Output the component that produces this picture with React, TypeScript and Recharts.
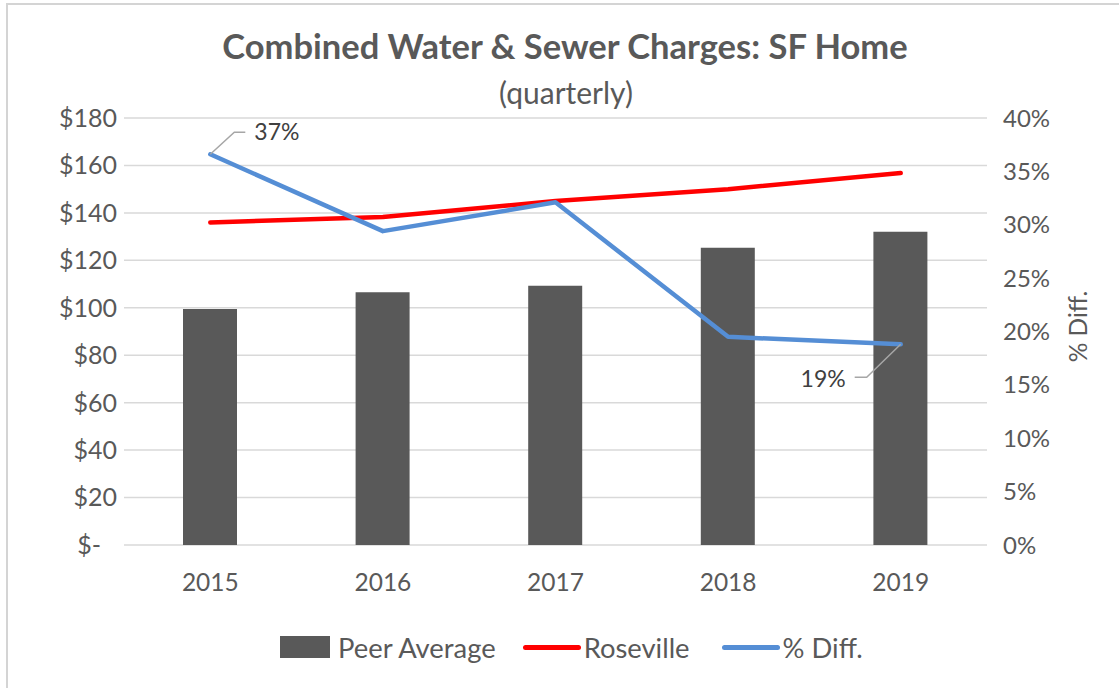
import React from 'react';
import { ComposedChart, Bar, Line, XAxis, YAxis, CartesianGrid } from 'recharts';

const years = ['2015', '2016', '2017', '2018', '2019'];
const peerAverage = [99.5, 106.5, 109.3, 125.3, 132.0];
const roseville = [136.0, 138.3, 145.0, 150.0, 156.8];
const pctDiff = [0.366, 0.294, 0.321, 0.195, 0.188];

const leftTicks = [0, 20, 40, 60, 80, 100, 120, 140, 160, 180];
const rightTicks = [0, 0.05, 0.1, 0.15, 0.2, 0.25, 0.3, 0.35, 0.4];

const seriesNames = ['Peer Average', 'Roseville', '% Diff.'];
const title = 'Combined Water & Sewer Charges: SF Home';
const subtitle = '(quarterly)';

const data = years.map((y, i) => ({
  year: y,
  peer: peerAverage[i],
  roseville: roseville[i],
  pct: pctDiff[i],
}));

const FONT = 'Lato, "Open Sans", sans-serif';
const TEXT = '#595959';

const LeftTick = (props: any) => {
  const { x, y, payload } = props;
  const v = payload.value;
  const label = v === 0 ? '$-' : '$' + v;
  return (
    <text x={v === 0 ? x - 16 : x} y={y} dy="0.355em" textAnchor="end" fill={TEXT} fontSize={25} fontFamily={FONT}>
      {label}
    </text>
  );
};

const PctLabel = (props: any) => {
  const { x, y, value, index } = props;
  const txt = Math.round(value * 100) + '%';
  if (index === 0) {
    return (
      <g>
        <polyline points={`${x},${y} ${x + 24},${y - 22} ${x + 35},${y - 22}`} fill="none" stroke="#a6a6a6" strokeWidth={1.5} />
        <text x={x + 44} y={y - 22} dy="0.355em" textAnchor="start" fill="#404040" fontSize={23} fontFamily={FONT}>{txt}</text>
      </g>
    );
  }
  if (index === years.length - 1) {
    return (
      <g>
        <polyline points={`${x},${y} ${x - 34},${y + 33} ${x - 46},${y + 33}`} fill="none" stroke="#a6a6a6" strokeWidth={1.5} />
        <text x={x - 55} y={y + 35} dy="0.355em" textAnchor="end" fill="#404040" fontSize={23} fontFamily={FONT}>{txt}</text>
      </g>
    );
  }
  return null;
};

const RightAxisLabel = (props: any) => {
  const { viewBox } = props;
  const cx = viewBox.x + viewBox.width - 41;
  const cy = viewBox.y + viewBox.height / 2 - 5;
  return (
    <text x={cx} y={cy} transform={`rotate(-90, ${cx}, ${cy})`} textAnchor="middle" dy="0.355em" fill={TEXT} fontSize={24.5} fontFamily={FONT}>
      {seriesNames[2]}
    </text>
  );
};

export default function App() {
  return (
    <div style={{ position: 'fixed', left: 0, top: 0, width: 1119, height: 688, background: '#fff', fontFamily: FONT, overflow: 'hidden' }}>
      <div style={{ position: 'absolute', left: 0, width: 1130, top: 26, textAlign: 'center', fontSize: 34.5, fontWeight: 700, color: TEXT, lineHeight: '40px' }}>
        {title}
      </div>
      <div style={{ position: 'absolute', left: 0, width: 1132, top: 74, textAlign: 'center', fontSize: 30, color: TEXT, lineHeight: '36px' }}>
        {subtitle}
      </div>
      <div style={{ position: 'absolute', left: 0, top: 0 }}>
        <ComposedChart width={1119} height={688} data={data} margin={{ top: 118, right: 0, bottom: 0, left: 0 }}>
          <CartesianGrid yAxisId="left" vertical={false} stroke="#d9d9d9" strokeWidth={1.5} />
          <XAxis dataKey="year" height={143} tickLine={false} axisLine={false} tickSize={0} tickMargin={29}
            tick={{ fill: TEXT, fontSize: 24.5, fontFamily: FONT }} />
          <YAxis yAxisId="left" orientation="left" width={124} domain={[0, 180]} ticks={leftTicks} interval={0}
            tickLine={false} axisLine={false} tickSize={0} tickMargin={7} tick={<LeftTick />} />
          <YAxis yAxisId="right" orientation="right" width={132} domain={[0, 0.4]} ticks={rightTicks} interval={0}
            tickLine={false} axisLine={false} tickSize={0} tickMargin={16}
            tickFormatter={(v: number) => Math.round(v * 100) + '%'}
            tick={{ fill: TEXT, fontSize: 24, fontFamily: FONT }}
            label={<RightAxisLabel />} />
          <Bar yAxisId="left" dataKey="peer" name={seriesNames[0]} fill="#595959" barSize={54} isAnimationActive={false} />
          <Line yAxisId="left" type="linear" dataKey="roseville" name={seriesNames[1]} stroke="#ff0000" strokeWidth={4.5}
            strokeLinecap="round" strokeLinejoin="round" dot={false} activeDot={false} isAnimationActive={false} />
          <Line yAxisId="right" type="linear" dataKey="pct" name={seriesNames[2]} stroke="#558ed5" strokeWidth={4.5}
            strokeLinecap="round" strokeLinejoin="round" dot={false} activeDot={false} isAnimationActive={false}
            label={<PctLabel />} />
        </ComposedChart>
      </div>
      <div style={{ position: 'absolute', left: 280, top: 631, height: 32, display: 'flex', alignItems: 'center', fontSize: 27.4, color: TEXT, whiteSpace: 'nowrap' }}>
        <span style={{ display: 'inline-block', width: 50, height: 22, background: '#595959', marginRight: 8 }} />
        <span style={{ marginRight: 27 }}>{seriesNames[0]}</span>
        <span style={{ display: 'inline-block', width: 58, height: 5, borderRadius: 3, background: '#ff0000', marginRight: 3 }} />
        <span style={{ marginRight: 32 }}>{seriesNames[1]}</span>
        <span style={{ display: 'inline-block', width: 58, height: 5, borderRadius: 3, background: '#558ed5', marginRight: 3 }} />
        <span>{seriesNames[2]}</span>
      </div>
      <div style={{ position: 'absolute', left: 6, top: 3, width: 1113, height: 2, background: '#d4d4d4', zIndex: 5 }} />
      <div style={{ position: 'absolute', left: 6, top: 3, width: 2, height: 685, background: '#d4d4d4', zIndex: 5 }} />
    </div>
  );
}
